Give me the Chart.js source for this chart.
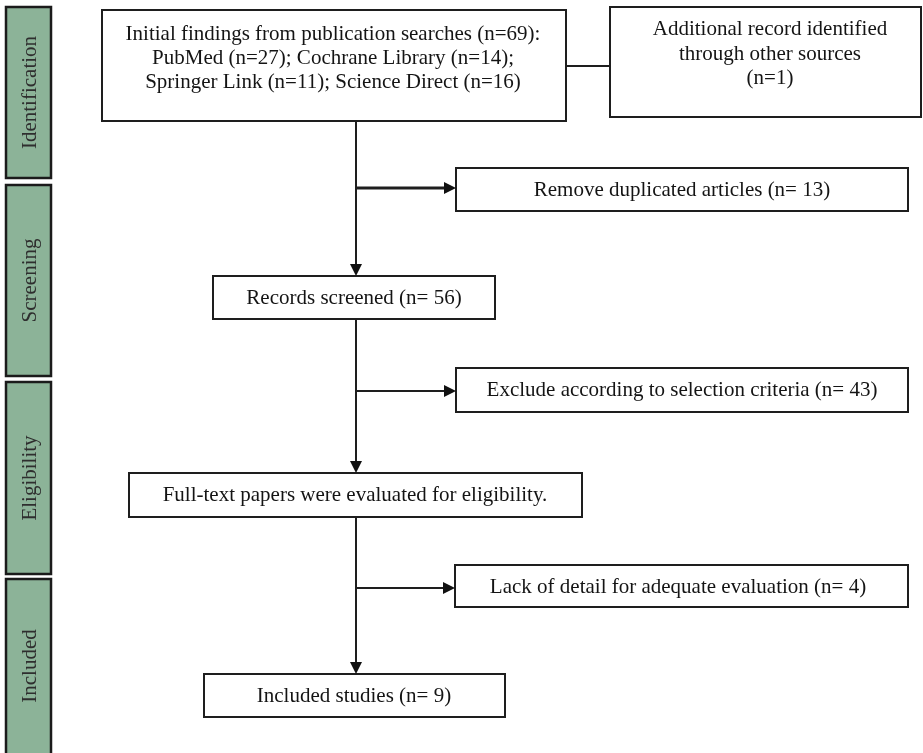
<!DOCTYPE html>
<html>
<head>
<meta charset="utf-8">
<script src="https://cdn.jsdelivr.net/npm/chart.js@4.4.1/dist/chart.umd.min.js"></script>
<style>
html,body{margin:0;padding:0;background:#fff;}
#wrap{width:923px;height:753px;position:relative;}
</style>
</head>
<body>
<div id="wrap"><canvas id="c" width="923" height="753"></canvas></div>
<script>
// ---- data ----
const stages = ['Identification', 'Screening', 'Eligibility', 'Included'];
const sources = ['PubMed', 'Cochrane Library', 'Springer Link', 'Science Direct'];
const sourceCounts = [27, 14, 11, 16];
const totalFound = 69;
const otherSources = 1;
const duplicatesRemoved = 13;
const screened = 56;
const excludedCriteria = 43;
const lackDetail = 4;
const includedStudies = 9;

// ---- texts built from data ----
const boxTexts = {
  search: [
    'Initial findings from publication searches (n=' + totalFound + '):',
    sources[0] + ' (n=' + sourceCounts[0] + '); ' + sources[1] + ' (n=' + sourceCounts[1] + ');',
    sources[2] + ' (n=' + sourceCounts[2] + '); ' + sources[3] + ' (n=' + sourceCounts[3] + ')'
  ],
  other: ['Additional record identified', 'through other sources', '(n=' + otherSources + ')'],
  dup: ['Remove duplicated articles (n= ' + duplicatesRemoved + ')'],
  screened: ['Records screened (n= ' + screened + ')'],
  excl: ['Exclude according to selection criteria (n= ' + excludedCriteria + ')'],
  full: ['Full-text papers were evaluated for eligibility.'],
  lack: ['Lack of detail for adequate evaluation (n= ' + lackDetail + ')'],
  incl: ['Included studies (n= ' + includedStudies + ')']
};

// ---- layout (diagram coordinates) ----
const layout = {
  stageBars: [[6, 7, 51, 178], [6, 185, 51, 376], [6, 382, 51, 574], [6, 579, 51, 760]],
  boxes: {
    search:   {x0: 102, y0: 10,  x1: 566, y1: 121, tx: 333, ty: [34, 58, 82]},
    other:    {x0: 610, y0: 7,   x1: 921, y1: 117, tx: 770, ty: [29, 54, 78]},
    dup:      {x0: 456, y0: 168, x1: 908, y1: 211, tx: 682, ty: [190]},
    screened: {x0: 213, y0: 276, x1: 495, y1: 319, tx: 354, ty: [298]},
    excl:     {x0: 456, y0: 368, x1: 908, y1: 412, tx: 682, ty: [390]},
    full:     {x0: 129, y0: 473, x1: 582, y1: 517, tx: 355, ty: [495]},
    lack:     {x0: 455, y0: 565, x1: 908, y1: 607, tx: 678, ty: [587]},
    incl:     {x0: 204, y0: 674, x1: 505, y1: 717, tx: 354, ty: [696]}
  },
  spineX: 356
};

const flowPlugin = {
  id: 'flow',
  afterDraw(chart) {
    const ctx = chart.ctx;
    const xs = chart.scales.x, ys = chart.scales.y;
    const X = v => xs.getPixelForValue(v);
    const Y = v => ys.getPixelForValue(v);
    ctx.save();

    // stage bars
    layout.stageBars.forEach((b, i) => {
      ctx.fillStyle = '#8cb398';
      ctx.fillRect(X(b[0]), Y(b[1]), X(b[2]) - X(b[0]), Y(b[3]) - Y(b[1]));
      ctx.strokeStyle = '#1b1b1b';
      ctx.lineWidth = 2.5;
      ctx.strokeRect(X(b[0]), Y(b[1]), X(b[2]) - X(b[0]), Y(b[3]) - Y(b[1]));
      ctx.save();
      ctx.translate(X((b[0] + b[2]) / 2) + 1.5, Y((Math.min(b[3], 753) + b[1]) / 2));
      ctx.rotate(-Math.PI / 2);
      ctx.fillStyle = '#2e2e2e';
      ctx.font = '21px "Liberation Serif"';
      ctx.textAlign = 'center';
      ctx.textBaseline = 'middle';
      ctx.fillText(stages[i], 0, 0);
      ctx.restore();
    });

    // boxes
    Object.keys(layout.boxes).forEach(k => {
      const b = layout.boxes[k];
      ctx.fillStyle = '#ffffff';
      ctx.fillRect(X(b.x0), Y(b.y0), X(b.x1) - X(b.x0), Y(b.y1) - Y(b.y0));
      ctx.strokeStyle = '#1e1e1e';
      ctx.lineWidth = 2;
      ctx.strokeRect(X(b.x0), Y(b.y0), X(b.x1) - X(b.x0), Y(b.y1) - Y(b.y0));
      ctx.fillStyle = '#141414';
      ctx.font = '21px "Liberation Serif"';
      ctx.textAlign = 'center';
      ctx.textBaseline = 'middle';
      boxTexts[k].forEach((t, j) => ctx.fillText(t, X(b.tx), Y(b.ty[j])));
    });

    const B = layout.boxes, sx = layout.spineX;
    function line(x0, y0, x1, y1, w) {
      ctx.strokeStyle = '#1e1e1e';
      ctx.lineWidth = w;
      ctx.beginPath();
      ctx.moveTo(X(x0), Y(y0));
      ctx.lineTo(X(x1), Y(y1));
      ctx.stroke();
    }
    function headDown(x, y) {
      ctx.fillStyle = '#111';
      ctx.beginPath();
      ctx.moveTo(X(x), Y(y));
      ctx.lineTo(X(x - 6), Y(y - 12));
      ctx.lineTo(X(x + 6), Y(y - 12));
      ctx.closePath();
      ctx.fill();
    }
    function headRight(x, y) {
      ctx.fillStyle = '#111';
      ctx.beginPath();
      ctx.moveTo(X(x), Y(y));
      ctx.lineTo(X(x - 12), Y(y - 6));
      ctx.lineTo(X(x - 12), Y(y + 6));
      ctx.closePath();
      ctx.fill();
    }
    // connector between search and other
    line(B.search.x1, 66, B.other.x0, 66, 2);
    // spine segments
    line(sx, B.search.y1, sx, B.screened.y0 - 8, 2);
    headDown(sx, B.screened.y0);
    line(sx, B.screened.y1, sx, B.full.y0 - 8, 2);
    headDown(sx, B.full.y0);
    line(sx, B.full.y1, sx, B.incl.y0 - 8, 2);
    headDown(sx, B.incl.y0);
    // side arrows
    line(sx, 188, B.dup.x0 - 8, 188, 3);
    headRight(B.dup.x0, 188);
    line(sx, 391, B.excl.x0 - 8, 391, 1.8);
    headRight(B.excl.x0, 391);
    line(sx, 588, B.lack.x0 - 8, 588, 1.8);
    headRight(B.lack.x0, 588);

    ctx.restore();
  }
};

new Chart(document.getElementById('c'), {
  type: 'scatter',
  data: { datasets: [{ data: [], showLine: false }] },
  options: {
    responsive: false,
    animation: false,
    devicePixelRatio: 1,
    layout: { padding: 0 },
    plugins: { legend: { display: false }, tooltip: { enabled: false } },
    scales: {
      x: { type: 'linear', min: 0, max: 923, display: false },
      y: { type: 'linear', min: 0, max: 753, reverse: true, display: false }
    }
  },
  plugins: [flowPlugin]
});
</script>
</body>
</html>
